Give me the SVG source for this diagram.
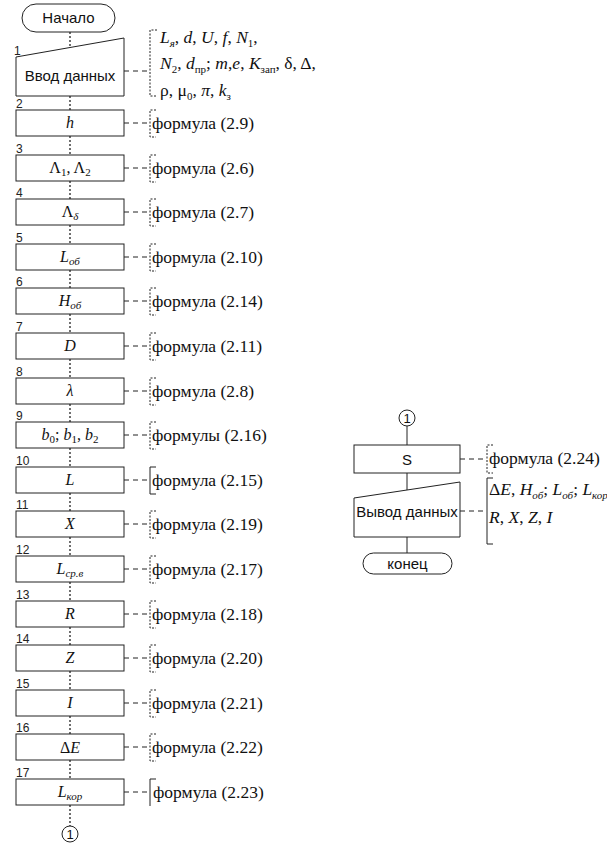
<svg xmlns="http://www.w3.org/2000/svg" width="607" height="846" viewBox="0 0 607 846">
<style>
.box{fill:#fff;stroke:#222;stroke-width:1}
.flow{stroke:#222;stroke-width:1.3;stroke-dasharray:2,2;fill:none}
.sflow{stroke:#222;stroke-width:1;fill:none}
.dash{stroke:#222;stroke-width:1;stroke-dasharray:5,4;fill:none}
.br{stroke:#222;stroke-width:1;stroke-dasharray:2,1.5;fill:none}
.sans{font-family:"Liberation Sans",Arial,sans-serif;fill:#111}
.num{font-family:"Liberation Sans",Arial,sans-serif;font-size:12px;fill:#222}
.lbl{font-family:"Liberation Serif","Times New Roman",serif;font-style:italic;font-size:16px;fill:#111;text-anchor:middle}
.math{font-family:"Liberation Serif","Times New Roman",serif;font-style:italic;font-size:17.5px;fill:#111}
.up{font-style:normal}
.sub{font-size:11px}
</style>

<g id="connectors">
  <line class="flow" x1="70" y1="32" x2="70" y2="47"/>
  <line class="flow" x1="70" y1="96" x2="70" y2="110"/>
  <line class="flow" x1="70" y1="136" x2="70" y2="155"/>
  <line class="flow" x1="70" y1="181" x2="70" y2="199"/>
  <line class="flow" x1="70" y1="225" x2="70" y2="244"/>
  <line class="flow" x1="70" y1="270" x2="70" y2="288"/>
  <line class="flow" x1="70" y1="314" x2="70" y2="333"/>
  <line class="flow" x1="70" y1="359" x2="70" y2="378"/>
  <line class="flow" x1="70" y1="404" x2="70" y2="422"/>
  <line class="flow" x1="70" y1="448" x2="70" y2="467"/>
  <line class="flow" x1="70" y1="493" x2="70" y2="511"/>
  <line class="flow" x1="70" y1="537" x2="70" y2="556"/>
  <line class="flow" x1="70" y1="582" x2="70" y2="601"/>
  <line class="flow" x1="70" y1="627" x2="70" y2="645"/>
  <line class="flow" x1="70" y1="671" x2="70" y2="690"/>
  <line class="flow" x1="70" y1="716" x2="70" y2="734"/>
  <line class="flow" x1="70" y1="760" x2="70" y2="779"/>
  <line class="flow" x1="70" y1="805" x2="70" y2="826"/>
  <line class="sflow" x1="407" y1="426" x2="407" y2="445"/>
  <line class="sflow" x1="407" y1="473" x2="407" y2="490"/>
  <line class="sflow" x1="407" y1="537" x2="407" y2="553"/>
  <line class="dash" x1="124" y1="71" x2="150" y2="71"/>
  <line class="dash" x1="124" y1="123" x2="149" y2="123"/>
  <line class="dash" x1="124" y1="168" x2="149" y2="168"/>
  <line class="dash" x1="124" y1="212" x2="149" y2="212"/>
  <line class="dash" x1="124" y1="257" x2="149" y2="257"/>
  <line class="dash" x1="124" y1="301" x2="149" y2="301"/>
  <line class="dash" x1="124" y1="346" x2="149" y2="346"/>
  <line class="dash" x1="124" y1="391" x2="149" y2="391"/>
  <line class="dash" x1="124" y1="435" x2="149" y2="435"/>
  <line class="dash" x1="124" y1="480" x2="149" y2="480"/>
  <line class="dash" x1="124" y1="524" x2="149" y2="524"/>
  <line class="dash" x1="124" y1="569" x2="149" y2="569"/>
  <line class="dash" x1="124" y1="614" x2="149" y2="614"/>
  <line class="dash" x1="124" y1="658" x2="149" y2="658"/>
  <line class="dash" x1="124" y1="703" x2="149" y2="703"/>
  <line class="dash" x1="124" y1="747" x2="149" y2="747"/>
  <line class="dash" x1="124" y1="792" x2="149" y2="792"/>
  <line class="dash" x1="460" y1="459" x2="486" y2="459"/>
  <line class="dash" x1="460" y1="511" x2="486" y2="511"/>
</g>

<g id="start">
  <rect class="box" x="22" y="4" width="93" height="28" rx="14"/>
  <text class="sans" x="68.5" y="23" font-size="15" text-anchor="middle">Начало</text>
</g>

<g id="n1">
  <polygon class="box" points="16,57 124,38 124,96 16,96"/>
  <text class="num" x="14" y="55">1</text>
  <text class="sans" x="70" y="81" font-size="15" text-anchor="middle">Ввод данных</text>
  <path class="br" d="M157,30 H150 V96 H157"/>
  <text class="math" x="160" y="43">L<tspan class="sub" dy="4">я</tspan><tspan dy="-4" class="up">,  </tspan>d<tspan class="up">,  </tspan>U<tspan class="up">,  </tspan>f<tspan class="up">,  </tspan>N<tspan class="sub up" dy="4">1</tspan><tspan dy="-4" class="up">,</tspan></text>
  <text class="math" x="160" y="69">N<tspan class="sub up" dy="4">2</tspan><tspan dy="-4" class="up">, </tspan>d<tspan class="sub up" dy="4">пр</tspan><tspan dy="-4" class="up">; </tspan>m<tspan class="up">,</tspan>e<tspan class="up">, </tspan>K<tspan class="sub up" dy="4">зап</tspan><tspan dy="-4" class="up">, δ, Δ,</tspan></text>
  <text class="math" x="160" y="96"><tspan class="up">ρ, μ</tspan><tspan class="sub up" dy="4">0</tspan><tspan dy="-4" class="up">, </tspan>π<tspan class="up">, </tspan>k<tspan class="sub up" dy="4">з</tspan></text>
</g>

<g id="n2">
  <rect class="box" x="16" y="110" width="108" height="26"/>
  <text class="num" x="16" y="108">2</text>
  <text class="lbl" x="70" y="128">h</text>
  <path class="br" d="M156,110 H150 V137 H156"/>
  <text x="152" y="129" font-family="Liberation Serif, serif" font-size="17.5" fill="#111">формула (2.9)</text>
</g>

<g id="n3">
  <rect class="box" x="16" y="155" width="108" height="26"/>
  <text class="num" x="16" y="153">3</text>
  <text class="lbl" x="70" y="173"><tspan class="up">Λ</tspan><tspan class="sub up" dy="3">1</tspan><tspan dy="-3" class="up">, Λ</tspan><tspan class="sub up" dy="3">2</tspan></text>
  <path class="br" d="M156,155 H150 V182 H156"/>
  <text x="152" y="174" font-family="Liberation Serif, serif" font-size="17.5" fill="#111">формула (2.6)</text>
</g>

<g id="n4">
  <rect class="box" x="16" y="199" width="108" height="26"/>
  <text class="num" x="16" y="197">4</text>
  <text class="lbl" x="70" y="217"><tspan class="up">Λ</tspan><tspan class="sub" dy="3">δ</tspan></text>
  <path class="br" d="M156,199 H150 V226 H156"/>
  <text x="152" y="218" font-family="Liberation Serif, serif" font-size="17.5" fill="#111">формула (2.7)</text>
</g>

<g id="n5">
  <rect class="box" x="16" y="244" width="108" height="26"/>
  <text class="num" x="16" y="242">5</text>
  <text class="lbl" x="70" y="262">L<tspan class="sub" dy="3">об</tspan></text>
  <path class="br" d="M156,244 H150 V271 H156"/>
  <text x="152" y="263" font-family="Liberation Serif, serif" font-size="17.5" fill="#111">формула (2.10)</text>
</g>

<g id="n6">
  <rect class="box" x="16" y="288" width="108" height="26"/>
  <text class="num" x="16" y="286">6</text>
  <text class="lbl" x="70" y="306">H<tspan class="sub" dy="3">об</tspan></text>
  <path class="br" d="M156,288 H150 V315 H156"/>
  <text x="152" y="307" font-family="Liberation Serif, serif" font-size="17.5" fill="#111">формула (2.14)</text>
</g>

<g id="n7">
  <rect class="box" x="16" y="333" width="108" height="26"/>
  <text class="num" x="16" y="331">7</text>
  <text class="lbl" x="70" y="351">D</text>
  <path class="br" d="M156,333 H150 V360 H156"/>
  <text x="152" y="352" font-family="Liberation Serif, serif" font-size="17.5" fill="#111">формула (2.11)</text>
</g>

<g id="n8">
  <rect class="box" x="16" y="378" width="108" height="26"/>
  <text class="num" x="16" y="376">8</text>
  <text class="lbl" x="70" y="396">λ</text>
  <path class="br" d="M156,378 H150 V405 H156"/>
  <text x="152" y="397" font-family="Liberation Serif, serif" font-size="17.5" fill="#111">формула (2.8)</text>
</g>

<g id="n9">
  <rect class="box" x="16" y="422" width="108" height="26"/>
  <text class="num" x="16" y="420">9</text>
  <text class="lbl" x="70" y="440">b<tspan class="sub up" dy="3">0</tspan><tspan dy="-3" class="up">; </tspan>b<tspan class="sub up" dy="3">1</tspan><tspan dy="-3" class="up">, </tspan>b<tspan class="sub up" dy="3">2</tspan></text>
  <path class="br" d="M156,422 H150 V449 H156"/>
  <text x="152" y="441" font-family="Liberation Serif, serif" font-size="17.5" fill="#111">формулы (2.16)</text>
</g>

<g id="n10">
  <rect class="box" x="16" y="467" width="108" height="26"/>
  <text class="num" x="16" y="465">10</text>
  <text class="lbl" x="70" y="485">L</text>
  <path class="sflow" d="M156,467 H150 V494 H156"/>
  <text x="152" y="486" font-family="Liberation Serif, serif" font-size="17.5" fill="#111">формула (2.15)</text>
</g>

<g id="n11">
  <rect class="box" x="16" y="511" width="108" height="26"/>
  <text class="num" x="16" y="509">11</text>
  <text class="lbl" x="70" y="529">X</text>
  <path class="br" d="M156,511 H150 V538 H156"/>
  <text x="152" y="530" font-family="Liberation Serif, serif" font-size="17.5" fill="#111">формула (2.19)</text>
</g>

<g id="n12">
  <rect class="box" x="16" y="556" width="108" height="26"/>
  <text class="num" x="16" y="554">12</text>
  <text class="lbl" x="70" y="574">L<tspan class="sub" dy="3">ср.в</tspan></text>
  <path class="br" d="M156,556 H150 V583 H156"/>
  <text x="152" y="575" font-family="Liberation Serif, serif" font-size="17.5" fill="#111">формула (2.17)</text>
</g>

<g id="n13">
  <rect class="box" x="16" y="601" width="108" height="26"/>
  <text class="num" x="16" y="599">13</text>
  <text class="lbl" x="70" y="619">R</text>
  <path class="br" d="M156,601 H150 V628 H156"/>
  <text x="152" y="620" font-family="Liberation Serif, serif" font-size="17.5" fill="#111">формула (2.18)</text>
</g>

<g id="n14">
  <rect class="box" x="16" y="645" width="108" height="26"/>
  <text class="num" x="16" y="643">14</text>
  <text class="lbl" x="70" y="663">Z</text>
  <path class="br" d="M156,645 H150 V672 H156"/>
  <text x="152" y="664" font-family="Liberation Serif, serif" font-size="17.5" fill="#111">формула (2.20)</text>
</g>

<g id="n15">
  <rect class="box" x="16" y="690" width="108" height="26"/>
  <text class="num" x="16" y="688">15</text>
  <text class="lbl" x="70" y="708">I</text>
  <path class="br" d="M156,690 H150 V717 H156"/>
  <text x="152" y="709" font-family="Liberation Serif, serif" font-size="17.5" fill="#111">формула (2.21)</text>
</g>

<g id="n16">
  <rect class="box" x="16" y="734" width="108" height="26"/>
  <text class="num" x="16" y="732">16</text>
  <text class="lbl" x="70" y="753"><tspan class="up">Δ</tspan>E</text>
  <path class="br" d="M156,734 H150 V761 H156"/>
  <text x="152" y="753" font-family="Liberation Serif, serif" font-size="17.5" fill="#111">формула (2.22)</text>
</g>

<g id="n17">
  <rect class="box" x="16" y="779" width="108" height="26"/>
  <text class="num" x="16" y="777">17</text>
  <text class="lbl" x="70" y="797">L<tspan class="sub" dy="3">кор</tspan></text>
  <path class="sflow" d="M156,779 H150 V806"/>
  <text x="153" y="798" font-family="Liberation Serif, serif" font-size="17.5" fill="#111">формула (2.23)</text>
</g>

<g id="conn-out">
  <circle class="box" cx="70" cy="834" r="8"/>
  <text class="sans" x="70" y="839" font-size="13" text-anchor="middle">1</text>
</g>

<g id="conn-in">
  <circle class="box" cx="407" cy="418" r="8"/>
  <text class="sans" x="407" y="423" font-size="13" text-anchor="middle">1</text>
</g>

<g id="s">
  <rect class="box" x="354" y="445" width="106" height="28"/>
  <text class="sans" x="407" y="465" font-size="15" text-anchor="middle">S</text>
  <path class="br" d="M493,445 H487 V473 H493"/>
  <text x="489" y="464" font-family="Liberation Serif, serif" font-size="17.5" fill="#111">формула (2.24)</text>
</g>

<g id="output">
  <polygon class="box" points="354,498 460,482 460,537 354,537"/>
  <text class="sans" x="407" y="517" font-size="15" text-anchor="middle">Вывод данных</text>
  <path class="sflow" d="M493,478 H487 V544 H493"/>
  <text class="math" x="489" y="495"><tspan class="up">Δ</tspan>E<tspan class="up">, </tspan>H<tspan class="sub" dy="4">об</tspan><tspan dy="-4" class="up">; </tspan>L<tspan class="sub" dy="4">об</tspan><tspan dy="-4" class="up">; </tspan>L<tspan class="sub" dy="4">кор</tspan></text>
  <text class="math" x="489" y="523">R<tspan class="up">, </tspan>X<tspan class="up">, </tspan>Z<tspan class="up">, </tspan>I</text>
</g>

<g id="end">
  <rect class="box" x="363" y="553" width="89" height="21" rx="10.5"/>
  <text class="sans" x="407.5" y="569" font-size="15" text-anchor="middle">конец</text>
</g>
</svg>
